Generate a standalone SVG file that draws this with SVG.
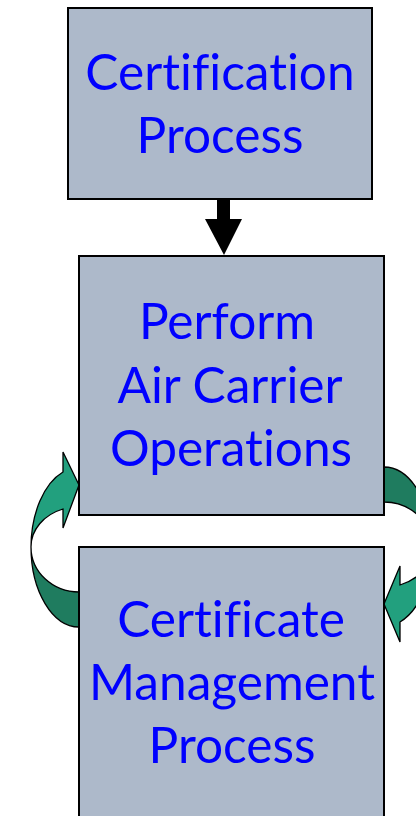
<svg xmlns="http://www.w3.org/2000/svg" width="416" height="816" viewBox="0 0 416 816">
<style>
.box{fill:#adb9ca;stroke:#000;stroke-width:2}
.lbl{font-family:Lato,"Open Sans","Liberation Sans",sans-serif;font-size:49.6px;fill:#0000ff;text-anchor:middle;font-variant-ligatures:none;font-feature-settings:"liga" 0,"clig" 0}
.light{fill:#22a07e;stroke:#000;stroke-width:1.3;stroke-linejoin:miter}
.dark{fill:#1f7c5f;stroke:#000;stroke-width:1.3}
</style>
<rect width="416" height="816" fill="#fff"/>
<g id="connectors">
<path id="down-arrow" d="M217,199 L230,199 L230,219 L242,219 L224,255 L205,219 L217,219 Z" fill="#000"/>
<g id="left-loop">
<path class="dark" d="M31,547 A48,80 0 0 0 79,627 L79,592 A48,45 0 0 1 31,547 Z"/>
<path class="light" d="M31,547 A48,80 0 0 1 63,472 L63,452 L79,485 L63,528 L63,509 A48,40 0 0 0 31,547 Z"/>
</g>
<g id="right-loop">
<path class="dark" d="M432,547 A48,80 0 0 0 384,467 L384,502 A48,45 0 0 1 432,547 Z"/>
<path class="light" d="M432,547 A48,80 0 0 1 400,622 L400,642 L384,604 L400,566 L400,585 A48,40 0 0 0 432,547 Z"/>
</g>
</g>
<g id="certification-process">
<rect class="box" x="68" y="8" width="304" height="191"/>
<text class="lbl" x="220" y="90">Certification</text>
<text class="lbl" x="220" y="153">Process</text>
</g>
<g id="perform-operations">
<rect class="box" x="79" y="256" width="305" height="259"/>
<text class="lbl" x="227" y="339">Perform</text>
<text class="lbl" x="230" y="403">Air Carrier</text>
<text class="lbl" x="231" y="466">Operations</text>
</g>
<g id="certificate-management">
<rect class="box" x="79" y="547" width="305" height="280"/>
<text class="lbl" x="231" y="637">Certificate</text>
<text class="lbl" x="232" y="700">Management</text>
<text class="lbl" x="232" y="763">Process</text>
</g>
</svg>
